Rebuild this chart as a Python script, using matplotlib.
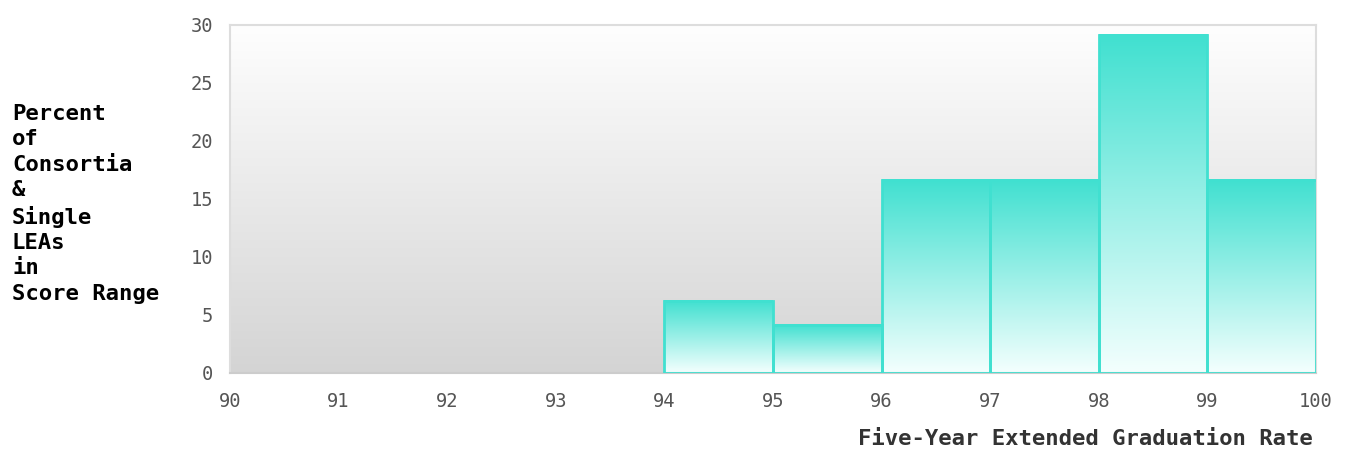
import numpy as np
import matplotlib
matplotlib.use("Agg")
import matplotlib.pyplot as plt
from matplotlib.colors import LinearSegmentedColormap

# ── Data ──────────────────────────────────────────────────────────────────────
bin_edges = [90, 91, 92, 93, 94, 95, 96, 97, 98, 99, 100]
percents  = [0, 0, 0, 0, 6.25, 4.17, 16.67, 16.67, 29.17, 16.67]
y_ticks   = [0, 5, 10, 15, 20, 25, 30]

y_label = "Percent\nof\nConsortia\n&\nSingle\nLEAs\nin\nScore Range"
x_label = "Five-Year Extended Graduation Rate"

TURQ = "#40E0D0"
MONO = "DejaVu Sans Mono"

fig = plt.figure(figsize=(13.51, 4.51), dpi=100)
ax = fig.add_axes([230 / 1351, 78 / 451, 1086 / 1351, 348 / 451])

# background gradient (light grey bottom -> white top)
bg_cmap = LinearSegmentedColormap.from_list("bg", ["#d4d4d4", "#fefefe"])
grad = np.linspace(0, 1, 256).reshape(-1, 1)
ax.imshow(grad, cmap=bg_cmap, origin="lower", aspect="auto",
          extent=(bin_edges[0], bin_edges[-1], 0, 30), zorder=0)

# bars with vertical gradient (near white bottom -> turquoise top)
bar_cmap = LinearSegmentedColormap.from_list("bar", ["#f4fffe", TURQ])
for x0, x1, h in zip(bin_edges[:-1], bin_edges[1:], percents):
    if h <= 0:
        continue
    ax.imshow(grad, cmap=bar_cmap, origin="lower", aspect="auto",
              extent=(x0, x1, 0, h), zorder=2)
    ax.bar(x0, h, width=x1 - x0, align="edge", facecolor="none",
           edgecolor=TURQ, linewidth=2.0, zorder=3)

ax.set_xlim(bin_edges[0], bin_edges[-1])
ax.set_ylim(0, 30)

for side in ["top", "right", "left"]:
    ax.spines[side].set_color("#dddddd")
    ax.spines[side].set_linewidth(1.5)
ax.spines["bottom"].set_color("#cccccc")
ax.spines["bottom"].set_linewidth(1.5)

ax.set_xticks(bin_edges)
ax.set_yticks(y_ticks)
ax.tick_params(length=0, labelsize=13.5, labelcolor="#555555")
for lbl in ax.get_xticklabels() + ax.get_yticklabels():
    lbl.set_family(MONO)
ax.tick_params(axis="x", pad=14)
ax.tick_params(axis="y", pad=12)

fig.text(12 / 1351, 1 - 104 / 451, y_label, ha="left", va="top",
         family=MONO, fontweight="bold", fontsize=16, linespacing=1.33,
         color="#000000")
fig.text(1313 / 1351, 1 - 439 / 451, x_label, ha="right", va="center",
         family=MONO, fontweight="bold", fontsize=16, color="#333333")

fig.savefig("out.png", dpi=100)
